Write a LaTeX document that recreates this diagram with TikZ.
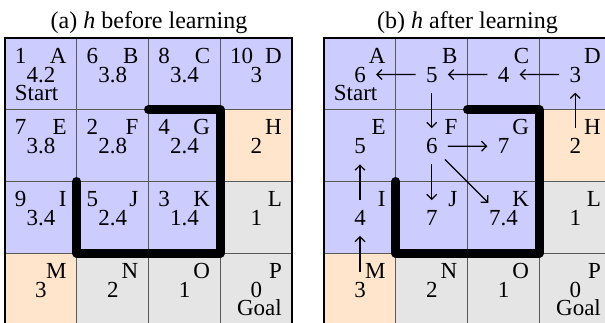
\documentclass[tikz,border=0pt]{standalone}
\usepackage{fontspec}
\setmainfont{Liberation Serif}
\usepackage{xcolor}
\usetikzlibrary{arrows.meta}

\definecolor{cellblue}{RGB}{204,204,255}
\definecolor{cellorange}{RGB}{255,229,204}
\definecolor{cellgray}{RGB}{229,229,229}

\begin{document}
\begin{tikzpicture}[
  x=0.5pt, y=-0.5pt,
  cell/.style={
    draw=black!65,
    line width=0.5pt,
    minimum width=35.875pt,
    minimum height=35.875pt,
    inner sep=0pt,
    outer sep=0pt,
    anchor=north west
  },
  txt/.style={
    inner sep=0pt,
    font=\fontsize{11.5}{13}\selectfont
  },
  letter/.style={txt, anchor=base east},
  idx/.style={txt, anchor=base west},
  val/.style={txt, anchor=base},
  title/.style={txt, anchor=base, font=\fontsize{12}{14}\selectfont},
  frame/.style={draw=black, line width=0.6pt},
  wall/.style={line width=4.5pt, line cap=round, line join=round},
  arr/.style={-{Straight Barb[length=2.5pt,width=5pt]}, line width=0.6pt,
    shorten <=5pt, shorten >=5pt}
]
\useasboundingbox (0,0) rectangle (605,322);

% (a) before learning
\foreach \n/\c/\r/\f/\k/\v in {
  A/0/0/cellblue/1/4.2, B/1/0/cellblue/6/3.8, C/2/0/cellblue/8/3.4, D/3/0/cellblue/10/3,
  E/0/1/cellblue/7/3.8, F/1/1/cellblue/2/2.8, G/2/1/cellblue/4/2.4, H/3/1/cellorange//2,
  I/0/2/cellblue/9/3.4, J/1/2/cellblue/5/2.4, K/2/2/cellblue/3/1.4, L/3/2/cellgray//1,
  M/0/3/cellorange//3, N/1/3/cellgray//2, O/2/3/cellgray//1, P/3/3/cellgray//0}{
  \node[cell, fill=\f] (a-\n) at (5+\c*71.75, 38+\r*71.75) {};
  \node[letter] (a-\n-l) at ([shift={(62,25)}]a-\n.north west) {\n};
  \node[idx] (a-\n-k) at ([shift={(9.5,25)}]a-\n.north west) {\k};
  \node[val] (a-\n-v) at ([shift={(36,44)}]a-\n.north west) {\v};
}
\draw[frame] (a-A.north west) rectangle (a-P.south east);
\node[idx] (a-start) at ([shift={(9.5,62.5)}]a-A.north west) {Start};
\node[letter] (a-goal) at ([shift={(62,62.5)}]a-P.north west) {Goal};
\draw[wall] (a-G.north west) -- (a-G.north east) -- (a-K.south east)
  -- (a-J.south west) -- (a-J.north west);
\node[title] (a-title) at (149,28) {(a) \textit{h} before learning};

% (b) after learning
\foreach \n/\c/\r/\f/\v in {
  A/0/0/cellblue/6, B/1/0/cellblue/5, C/2/0/cellblue/4, D/3/0/cellblue/3,
  E/0/1/cellblue/5, F/1/1/cellblue/6, G/2/1/cellblue/7, H/3/1/cellorange/2,
  I/0/2/cellblue/4, J/1/2/cellblue/7, K/2/2/cellblue/7.4, L/3/2/cellgray/1,
  M/0/3/cellorange/3, N/1/3/cellgray/2, O/2/3/cellgray/1, P/3/3/cellgray/0}{
  \node[cell, fill=\f] (b-\n) at (324+\c*71.75, 38+\r*71.75) {};
  \node[letter] (b-\n-l) at ([shift={(62,25)}]b-\n.north west) {\n};
  \node[val] (b-\n-v) at ([shift={(36,44)}]b-\n.north west) {\v};
}
\draw[frame] (b-A.north west) rectangle (b-P.south east);
\node[idx] (b-start) at ([shift={(9.5,62.5)}]b-A.north west) {Start};
\node[letter] (b-goal) at ([shift={(62,62.5)}]b-P.north west) {Goal};
\draw[wall] (b-G.north west) -- (b-G.north east) -- (b-K.south east)
  -- (b-J.south west) -- (b-J.north west);
\node[title] (b-title) at (467.5,28) {(b) \textit{h} after learning};

\draw[arr] (b-D-v) -- (b-C-v);
\draw[arr] (b-C-v) -- (b-B-v);
\draw[arr] (b-B-v) -- (b-A-v);
\draw[arr] (b-B-v) -- (b-F-v);
\draw[arr] (b-F-v) -- (b-G-v);
\draw[arr] (b-F-v) -- (b-J-v);
\draw[arr] (b-F-v) -- (b-K-v);
\draw[arr] (b-H-v) -- (b-D-v);
\draw[arr] (b-M-v) -- (b-I-v);
\draw[arr] (b-I-v) -- (b-E-v);

\end{tikzpicture}
\end{document}
